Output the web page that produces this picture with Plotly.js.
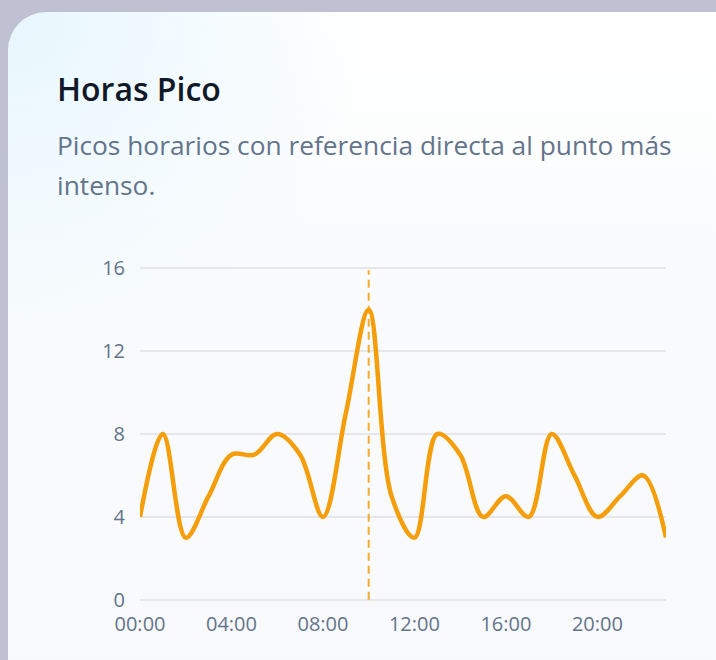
<!DOCTYPE html>
<html>
<head>
<meta charset="utf-8">
<script src="https://cdn.plot.ly/plotly-3.0.1.min.js"></script>
<style>
  html, body { margin: 0; padding: 0; }
  body {
    width: 716px; height: 660px; overflow: hidden;
    background: #bfc0d2;
    font-family: "Open Sans", "Noto Sans", sans-serif;
  }
  .card {
    position: absolute; left: 8px; top: 12px;
    width: 760px; height: 720px;
    border-radius: 38px;
    background:
      radial-gradient(circle at 0 0, #e7f7fe 0, rgba(255,255,255,0) 360px),
      linear-gradient(180deg, #ffffff 0%, #f9fbfc 40%, #f8f9fb 100%);
  }
  h1 {
    position: absolute; left: 49px; top: 55px; margin: 0;
    font-size: 32px; font-weight: 600; color: #111827;
  }
  p {
    position: absolute; left: 49px; top: 113px; margin: 0;
    width: 640px;
    font-size: 26.3px; line-height: 40px; color: #64748b;
  }
  #chart { position: absolute; left: 49px; top: 218px; width: 640px; height: 442px; }
</style>
</head>
<body>
<div class="card">
  <h1>Horas Pico</h1>
  <p>Picos horarios con referencia directa al punto más intenso.</p>
  <div id="chart"></div>
</div>
<script>
// datos por hora
const hours = ['00:00','01:00','02:00','03:00','04:00','05:00','06:00','07:00',
  '08:00','09:00','10:00','11:00','12:00','13:00','14:00','15:00',
  '16:00','17:00','18:00','19:00','20:00','21:00','22:00','23:00'];
const values = [4, 8, 3, 5, 7, 7, 8, 7, 4, 9, 14, 5, 3, 8, 7, 4, 5, 4, 8, 6, 4, 5, 6, 3];
const yTicks = [0, 4, 8, 12, 16];

// hora con el valor maximo
const peakHour = hours[values.indexOf(Math.max(...values))];

Plotly.newPlot('chart', [{
  x: hours,
  y: values,
  type: 'scatter',
  mode: 'lines',
  line: { color: '#f59e0b', width: 4.5, shape: 'spline', smoothing: 1 },
  hoverinfo: 'x+y'
}], {
  margin: { l: 83, r: 31, t: 32, b: 66 },
  paper_bgcolor: 'rgba(0,0,0,0)',
  plot_bgcolor: 'rgba(0,0,0,0)',
  font: { family: '"Open Sans", sans-serif', size: 20, color: '#64748b' },
  showlegend: false,
  xaxis: {
    type: 'category',
    range: [0, 23],
    tickvals: hours.filter((h, i) => i % 4 === 0),
    showgrid: false,
    zeroline: false,
    showline: false,
    ticks: '',
    ticklabelstandoff: 4
  },
  yaxis: {
    range: [-0.3, 16.3],
    tickvals: yTicks,
    gridcolor: '#e5e7eb',
    gridwidth: 1.5,
    zeroline: false,
    showline: false,
    ticks: '',
    ticklabelstandoff: 14
  },
  shapes: [{
    type: 'line', xref: 'x', yref: 'y',
    x0: peakHour, x1: peakHour, y0: 0, y1: 15.9,
    opacity: 0.85,
    line: { color: '#f59e0b', width: 2, dash: '8px,5px' }
  }]
}, { displayModeBar: false, staticPlot: true });
</script>
</body>
</html>
